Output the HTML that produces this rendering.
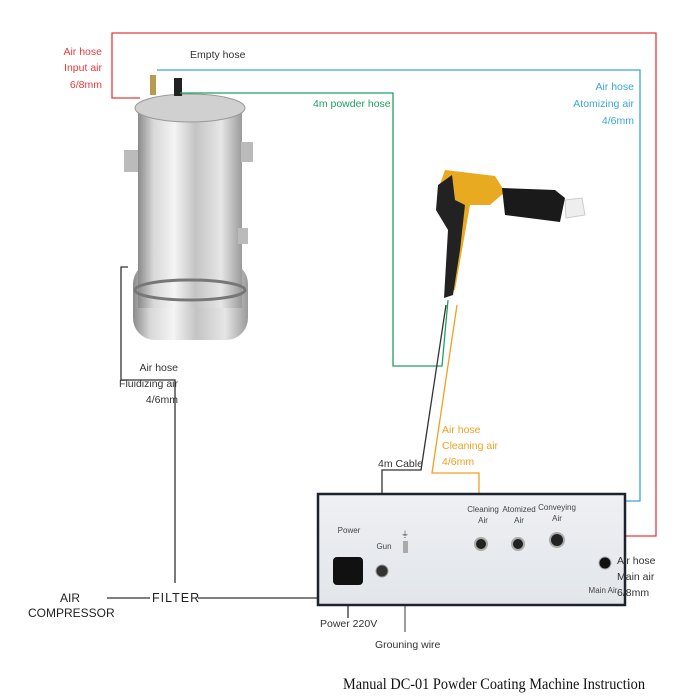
<!DOCTYPE html>
<html><head><style>
body{margin:0;background:#fff;}
svg{display:block}
.s{font-family:"Liberation Sans",sans-serif;}
</style></head><body>
<svg width="700" height="700" viewBox="0 0 700 700" xmlns="http://www.w3.org/2000/svg">
<defs>
<linearGradient id="steel" x1="0" x2="1">
<stop offset="0" stop-color="#8a8a8a"/><stop offset="0.15" stop-color="#d8d8d8"/><stop offset="0.35" stop-color="#f4f4f4"/><stop offset="0.55" stop-color="#c4c4c4"/><stop offset="0.8" stop-color="#e6e6e6"/><stop offset="1" stop-color="#9a9a9a"/>
</linearGradient>
<linearGradient id="panel" x1="0" x2="0" y1="0" y2="1"><stop offset="0" stop-color="#eef0f3"/><stop offset="1" stop-color="#e2e5ea"/></linearGradient>
</defs>
<rect x="133" y="262" width="115" height="78" rx="22" fill="url(#steel)"/>
<rect x="138" y="108" width="104" height="200" fill="url(#steel)"/>
<ellipse cx="190" cy="108" rx="55" ry="14" fill="#d0d0d0" stroke="#999"/>
<ellipse cx="190" cy="290" rx="55" ry="10" fill="none" stroke="#777" stroke-width="3"/>
<rect x="124" y="150" width="14" height="22" fill="#bbb"/><rect x="241" y="142" width="12" height="20" fill="#bbb"/>
<rect x="238" y="228" width="10" height="16" fill="#bbb"/>
<rect x="174" y="78" width="8" height="18" fill="#222"/>
<rect x="150" y="75" width="6" height="20" fill="#b89a50"/>
<g fill="none" stroke-width="1.3">
<polyline points="140,98 112,98 112,33 656,33 656,536 560,536" stroke="#e53a3a"/>
<polyline points="157,70 640,70 640,501 516,501 516,538" stroke="#3aa6dc"/>
<polyline points="180,93 393,93 393,366 442,366 448,300" stroke="#20a060"/>
<polyline points="128,267 121,267 121,380 175,380 175,583" stroke="#333"/>
<polyline points="382,545 382,470 421,470 446,305" stroke="#333"/>
<polyline points="479,540 479,473 432,473 457,305" stroke="#f0a020"/>
<line x1="107" y1="598" x2="150" y2="598" stroke="#333"/>
<line x1="198" y1="598" x2="592" y2="598" stroke="#333"/>
<line x1="592" y1="598" x2="597" y2="565" stroke="#333"/>
<line x1="348" y1="580" x2="348" y2="618" stroke="#333"/>
<line x1="405" y1="545" x2="405" y2="632" stroke="#666"/>
</g>
<path d="M445,170 L495,176 L505,192 L490,205 L470,205 L462,250 L455,290 L445,292 L450,230 L440,215 L438,190 Z" fill="#e8aa20"/>
<path d="M438,185 L452,175 L455,200 L465,205 L460,250 L453,295 L444,298 L448,230 L436,210 Z" fill="#222"/>
<path d="M502,188 L555,190 L565,198 L560,222 L505,215 Z" fill="#1a1a1a"/>
<path d="M565,200 L582,198 L585,215 L566,218 Z" fill="#eee" stroke="#ccc"/>
<rect x="318" y="494" width="307" height="111" fill="url(#panel)" stroke="#1e2230" stroke-width="2.5"/>
<rect x="333" y="557" width="30" height="28" rx="4" fill="#111"/>
<circle cx="382" cy="571" r="6" fill="#333" stroke="#999"/>
<rect x="403" y="541" width="5" height="12" fill="#aaa"/>
<circle cx="481" cy="544" r="6" fill="#222" stroke="#aaa" stroke-width="2"/>
<circle cx="518" cy="544" r="6" fill="#222" stroke="#aaa" stroke-width="2"/>
<circle cx="557" cy="540" r="7" fill="#222" stroke="#aaa" stroke-width="2"/>
<circle cx="605" cy="563" r="6" fill="#111" stroke="#aaa"/>
<g class="s" font-size="8" fill="#444" text-anchor="middle">
<text x="349" y="533">Power</text><text x="384" y="549">Gun</text><text x="405" y="537">⏚</text>
<text x="483" y="512">Cleaning</text><text x="483" y="523">Air</text>
<text x="519" y="512">Atomized</text><text x="519" y="523">Air</text>
<text x="557" y="510">Conveying</text><text x="557" y="521">Air</text>
<text x="603" y="593">Main Air</text>
</g>
<g class="s" font-size="10.5">
<text x="102" y="55" fill="#e53a3a" text-anchor="end">Air hose</text>
<text x="102" y="71" fill="#e53a3a" text-anchor="end">Input air</text>
<text x="102" y="88" fill="#e53a3a" text-anchor="end">6/8mm</text>
<text x="190" y="58" fill="#333">Empty hose</text>
<text x="313" y="107" fill="#20a060">4m powder hose</text>
<text x="634" y="90" fill="#3aa6dc" text-anchor="end">Air hose</text>
<text x="634" y="107" fill="#3aa6dc" text-anchor="end">Atomizing air</text>
<text x="634" y="124" fill="#3aa6dc" text-anchor="end">4/6mm</text>
<text x="178" y="371" fill="#333" text-anchor="end">Air hose</text>
<text x="178" y="387" fill="#333" text-anchor="end">Fluidizing air</text>
<text x="178" y="403" fill="#333" text-anchor="end">4/6mm</text>
<text x="442" y="433" fill="#f0a020">Air hose</text>
<text x="442" y="449" fill="#f0a020">Cleaning air</text>
<text x="442" y="465" fill="#f0a020">4/6mm</text>
<text x="378" y="467" fill="#333">4m Cable</text>
<text x="617" y="564" fill="#333">Air hose</text>
<text x="617" y="580" fill="#333">Main air</text>
<text x="617" y="596" fill="#333">6/8mm</text>
<text x="320" y="627" fill="#333">Power 220V</text>
<text x="375" y="648" fill="#333">Grouning wire</text>
</g>
<text class="s" x="60" y="602" font-size="12" fill="#222">AIR</text>
<text class="s" x="28" y="617" font-size="12" fill="#222">COMPRESSOR</text>
<text class="s" x="152" y="602" font-size="12.5" fill="#222" letter-spacing="1">FILTER</text>
<text x="343" y="689" style="font-family:'Liberation Serif',serif" font-size="15.5" fill="#111" textLength="302" lengthAdjust="spacingAndGlyphs">Manual DC-01 Powder Coating  Machine Instruction</text>
</svg>
</body></html>
